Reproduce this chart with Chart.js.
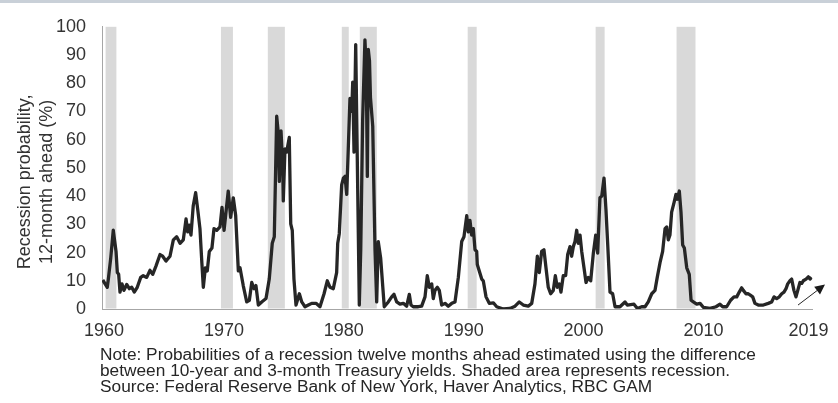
<!DOCTYPE html>
<html>
<head>
<meta charset="utf-8">
<script src="https://cdn.jsdelivr.net/npm/chart.js@4"></script>
<style>
  html, body { margin: 0; padding: 0; background: #fff; }
  #wrap { position: relative; width: 838px; height: 403px; overflow: hidden; }
  #topline { position: absolute; left: 0; top: 0; width: 838px; height: 3px; background: #c9d0d8; }
  #c { position: absolute; left: 0; top: 0; }
  #notes { position: absolute; left: 100px; top: 347px; font-family: "Liberation Sans", Arial, sans-serif;
           font-size: 16px; line-height: 16px; color: #262626; white-space: nowrap;
           transform: scaleX(1.08); transform-origin: 0 0; }
</style>
</head>
<body>
<div id="wrap">
  <canvas id="c" width="838" height="403"></canvas>
  <div id="topline"></div>
  <div id="notes">
    <div>Note: Probabilities of a recession twelve months ahead estimated using the difference</div>
    <div>between 10-year and 3-month Treasury yields. Shaded area represents recession.</div>
    <div>Source: Federal Reserve Bank of New York, Haver Analytics, RBC GAM</div>
  </div>
</div>
<script>
// ---- data ----
const dates = [
  1960.06,1960.44,1960.53,1960.73,1960.94,1961.17,1961.28,1961.39,1961.50,1961.67,1961.83,1962.06,1962.28,1962.48,1962.69,1962.94,
  1963.23,1963.44,1963.73,1964.00,1964.23,1964.50,1964.84,1965.06,1965.34,1965.67,1965.95,1966.23,1966.51,1966.78,1967.01,1967.15,
  1967.28,1967.42,1967.61,1967.81,1967.98,1968.17,1968.32,1968.45,1968.62,1968.78,1968.95,1969.17,1969.34,1969.57,1969.84,1970.01,
  1970.18,1970.34,1970.53,1970.73,1970.95,1971.15,1971.37,1971.51,1971.78,1972.07,1972.29,1972.49,1972.68,1972.84,1973.04,1973.32,
  1973.68,1973.95,1974.20,1974.37,1974.57,1974.70,1974.79,1974.93,1975.07,1975.12,1975.26,1975.40,1975.62,1975.74,1975.87,1976.01,
  1976.18,1976.46,1976.66,1976.93,1977.21,1977.49,1977.85,1978.18,1978.52,1978.79,1979.02,1979.29,1979.57,1979.66,1979.79,1979.99,
  1980.13,1980.27,1980.41,1980.54,1980.68,1980.83,1980.91,1981.02,1981.16,1981.46,1981.58,1981.74,1981.93,1982.04,1982.13,1982.21,
  1982.31,1982.39,1982.58,1982.77,1982.91,1983.04,1983.24,1983.54,1983.88,1984.16,1984.35,1984.58,1984.85,1985.13,1985.41,1985.63,
  1985.77,1985.96,1986.38,1986.66,1986.94,1987.13,1987.30,1987.50,1987.63,1987.77,1987.97,1988.13,1988.33,1988.61,1988.88,1989.17,
  1989.44,1989.72,1990.00,1990.19,1990.42,1990.55,1990.69,1990.83,1990.97,1991.11,1991.25,1991.30,1991.67,1991.80,1992.03,1992.30,
  1992.64,1992.92,1993.47,1994.03,1994.45,1994.80,1995.14,1995.55,1995.84,1996.11,1996.31,1996.47,1996.67,1996.86,1997.03,1997.22,
  1997.42,1997.64,1997.81,1997.97,1998.14,1998.28,1998.47,1998.67,1998.84,1999.03,1999.17,1999.31,1999.45,1999.59,1999.72,1999.87,
  2000.01,2000.20,2000.37,2000.56,2000.76,2000.98,2001.18,2001.34,2001.53,2001.68,2001.87,2002.03,2002.18,2002.37,2002.59,2002.79,
  2003.20,2003.62,2003.81,2004.37,2004.65,2005.01,2005.29,2005.56,2005.85,2006.12,2006.31,2006.54,2006.76,2006.96,2007.10,2007.23,
  2007.37,2007.51,2007.71,2007.87,2007.98,2008.15,2008.29,2008.43,2008.57,2008.77,2008.98,2009.13,2009.32,2009.60,2009.88,2010.15,
  2010.71,2011.21,2011.54,2011.77,2012.10,2012.43,2012.71,2012.94,2013.15,2013.35,2013.49,2013.71,2013.90,2014.10,2014.27,2014.46,
  2014.74,2015.16,2015.57,2015.85,2016.05,2016.27,2016.49,2016.69,2016.88,2017.05,2017.19,2017.38,2017.52,2017.71,2017.88,2018.07,
  2018.21,2018.36,2018.49,2018.72,2018.91,2019.05,2019.19
];
const probability = [
  10.3,7.7,10.6,18.1,27.9,20.4,12.9,12.3,6.0,8.9,6.6,8.7,7.2,7.7,6.0,7.7,
  11.2,11.8,11.2,13.7,12.3,15.2,19.3,18.7,17.0,18.7,24.5,25.6,23.3,24.5,31.9,27.3,
  29.7,26.2,36.6,41.2,35.4,28.5,17.0,7.7,14.6,13.5,20.4,21.6,28.5,27.9,29.1,36.0,
  27.9,34.3,41.8,32.5,39.4,33.1,13.5,14.6,8.3,2.5,3.1,9.4,7.2,8.3,1.4,2.5,
  3.7,10.6,23.3,25.6,68.3,62.5,45.2,63.1,51.0,38.3,56.7,55.6,60.8,30.2,27.9,10.6,
  1.4,5.4,2.5,0.8,1.4,2.0,2.0,0.8,5.4,10.0,7.7,7.2,12.9,23.3,26.7,44.0,
  46.4,47.0,40.6,56.7,74.6,70.0,80.4,55.6,93.7,1.4,21.0,67.1,95.4,85.0,47.0,92.0,
  88.0,75.0,64.8,21.0,2.5,23.9,18.1,0.8,2.5,4.3,5.2,2.5,1.7,2.0,1.0,5.2,
  1.4,0.8,0.8,1.0,4.3,11.8,7.7,8.9,3.7,6.6,7.7,6.6,1.4,2.0,1.0,2.0,
  2.5,11.2,23.9,25.6,33.1,27.3,31.4,26.2,28.5,21.0,20.4,15.8,10.6,10.0,4.3,2.0,
  2.2,0.8,0.0,0.2,1.0,2.5,1.4,1.0,2.0,8.9,18.7,12.9,20.4,21.0,14.6,7.7,
  5.4,6.6,11.8,7.7,8.9,6.0,11.8,11.8,19.3,22.1,18.7,22.1,23.9,27.9,23.3,26.2,
  20.4,14.6,9.4,11.2,10.0,19.8,26.2,19.8,39.4,40.0,46.4,35.4,22.7,6.0,5.4,0.8,
  0.8,2.5,1.4,1.7,0.2,0.8,0.8,2.5,5.4,6.6,11.2,16.4,20.4,28.5,29.1,24.5,
  26.2,34.3,37.7,40.6,38.9,41.8,34.3,22.7,21.6,14.6,12.3,3.1,2.5,1.7,2.0,0.6,
  0.2,0.8,1.7,0.8,0.8,3.1,4.3,4.3,6.0,7.5,6.6,5.4,5.4,4.8,4.3,2.0,
  1.4,1.4,2.0,2.5,4.3,3.7,4.3,5.4,6.0,7.2,8.9,10.0,10.6,6.6,4.3,7.2,
  9.4,9.1,10.0,10.6,11.4,10.6,11.2
];
const recessionStart = [1960.30, 1969.92, 1973.83, 1980.00, 1981.50, 1990.50, 2001.17, 2007.92];
const recessionEnd   = [1961.20, 1970.92, 1975.25, 1980.58, 1982.92, 1991.25, 2001.92, 2009.50];
const xMin = 1960, xMax = 2019.25;
const xTickValues = [1960, 1970, 1980, 1990, 2000, 2010, 2018.75];
const xTickLabels = ['1960', '1970', '1980', '1990', '2000', '2010', '2019'];
const yTickStep = 10;
const yTitle = ['Recession probability,', '12-month ahead (%)'];
const arrowFrom = [2018.05, 1.4];
const arrowTo = [2020.3, 8.65];

// ---- plugins ----
const recessionShading = {
  id: 'recessionShading',
  beforeDatasetsDraw(chart) {
    const {ctx, chartArea, scales: {x}} = chart;
    ctx.save();
    ctx.fillStyle = '#d9d9d9';
    for (let i = 0; i < recessionStart.length; i++) {
      const x1 = x.getPixelForValue(recessionStart[i]);
      const x2 = x.getPixelForValue(recessionEnd[i]);
      ctx.fillRect(x1, chartArea.top, x2 - x1, chartArea.bottom - chartArea.top - 0.5);
    }
    ctx.restore();
  }
};
const trendArrow = {
  id: 'trendArrow',
  afterDatasetsDraw(chart) {
    const {ctx, scales: {x, y}} = chart;
    const x1 = x.getPixelForValue(arrowFrom[0]), y1 = y.getPixelForValue(arrowFrom[1]);
    const x2 = x.getPixelForValue(arrowTo[0]), y2 = y.getPixelForValue(arrowTo[1]);
    const ang = Math.atan2(y2 - y1, x2 - x1), L = 11, W = 0.45;
    ctx.save();
    ctx.strokeStyle = '#262626'; ctx.fillStyle = '#1a1a1a'; ctx.lineWidth = 1;
    ctx.beginPath(); ctx.moveTo(x1, y1);
    ctx.lineTo(x2 - (L - 2) * Math.cos(ang), y2 - (L - 2) * Math.sin(ang)); ctx.stroke();
    ctx.beginPath(); ctx.moveTo(x2, y2);
    ctx.lineTo(x2 - L * Math.cos(ang - W), y2 - L * Math.sin(ang - W));
    ctx.lineTo(x2 - L * Math.cos(ang + W), y2 - L * Math.sin(ang + W));
    ctx.closePath(); ctx.fill();
    ctx.restore();
  }
};
const yAxisTitle = {
  id: 'yAxisTitle',
  afterDraw(chart) {
    const {ctx, chartArea} = chart;
    const cy = (chartArea.top + chartArea.bottom) / 2 + 14;
    ctx.save();
    ctx.translate(25, cy);
    ctx.rotate(-Math.PI / 2);
    ctx.font = '18px "Liberation Sans", Arial, sans-serif';
    ctx.fillStyle = '#333333';
    ctx.textAlign = 'center';
    ctx.textBaseline = 'middle';
    yTitle.forEach((t, i) => ctx.fillText(t, 0, i * 22));
    ctx.restore();
  }
};

new Chart(document.getElementById('c'), {
  type: 'line',
  data: {
    datasets: [{
      data: dates.map((d, i) => ({x: d, y: probability[i]})),
      borderColor: '#262626',
      borderWidth: 3.3,
      pointRadius: 0,
      tension: 0,
      borderJoinStyle: 'round',
      fill: false
    }]
  },
  options: {
    responsive: false,
    animation: false,
    events: [],
    layout: {padding: {top: 20, right: 25.6, left: 0, bottom: 0}},
    plugins: {legend: {display: false}, tooltip: {enabled: false}, title: {display: false}},
    scales: {
      x: {
        type: 'linear', min: xMin, max: xMax,
        grid: {display: false, drawTicks: false},
        border: {display: true, color: '#a6a6a6', width: 1},
        afterBuildTicks: s => { s.ticks = xTickValues.map(v => ({value: v})); },
        afterFit: s => { s.height = 94; },
        ticks: {
          autoSkip: false, maxRotation: 0, padding: 11, labelOffset: 2,
          color: '#333333', font: {family: '"Liberation Sans", Arial, sans-serif', size: 18},
          callback: (v, i) => xTickLabels[i]
        }
      },
      y: {
        min: 0, max: 100,
        grid: {display: false, drawTicks: false},
        border: {display: true, color: '#a6a6a6', width: 1},
        afterFit: s => { s.width = 102; },
        ticks: {
          stepSize: yTickStep, padding: 16,
          color: '#333333', font: {family: '"Liberation Sans", Arial, sans-serif', size: 18}
        }
      }
    }
  },
  plugins: [recessionShading, trendArrow, yAxisTitle]
});
</script>
</body>
</html>
